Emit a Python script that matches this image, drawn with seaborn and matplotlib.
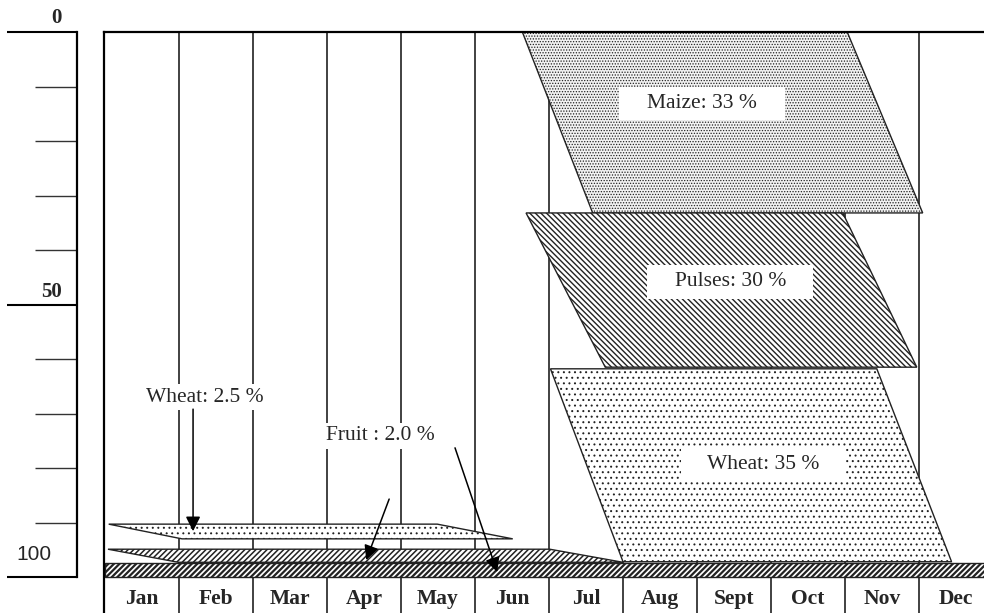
import numpy as np
import matplotlib.pyplot as plt
import seaborn as sns
from matplotlib.patches import Rectangle

sns.set_theme(style="white")
plt.rcParams['font.family'] = ['Liberation Serif', 'DejaVu Serif']
plt.rcParams['hatch.linewidth'] = 0.7

# ---- data: crop calendar (x in months from Jan 1, y in % of area, 0 at top) ----
months = ['Jan', 'Feb', 'Mar', 'Apr', 'May', 'Jun',
          'Jul', 'Aug', 'Sept', 'Oct', 'Nov', 'Dec']
crops = ['Maize', 'Pulses', 'Wheat', 'Wheat (rabi)', 'Fruit', 'Perennial']
sow_start = [5.64, 5.69, 6.02, 0.05, 0.04, 0.0]
sow_end = [10.03, 9.97, 10.43, 4.49, 6.01, 12.0]
harvest_start = [6.59, 6.76, 7.00, 1.04, 0.99, 0.0]
harvest_end = [11.05, 10.97, 11.44, 5.51, 7.00, 12.0]
top_pct = [0.0, 33.2, 61.8, 90.3, 94.9, 97.4]
bottom_pct = [33.2, 61.5, 97.2, 93.0, 97.3, 100.0]

big_labels = ['Maize: 33 %', 'Pulses: 30 %', 'Wheat: 35 %']
small_labels = ['Wheat: 2.5 %', 'Fruit : 2.0 %']

scale_major = [0, 50, 100]
scale_minor = [10, 20, 30, 40, 60, 70, 80, 90]

# fill style per crop
faces = ['#f2f2f2', 'white', 'white', 'white', 'white', 'white']
hatches = ['......', '\\\\\\\\\\\\', '...', '...', '//////', '//////']
hatch_lw = [0.6, 1.0, 0.7, 0.7, 1.1, 1.6]

# ---- figure ----
fig = plt.figure(figsize=(9.84, 6.13), dpi=100)
W, H = 984, 613
ax = fig.add_axes([104 / W, 0, 1 - 104 / W, 1 - 32 / H])
ax.set_xlim(-1 / 74, (984 - 105) / 74)
ax.set_ylim((613 - 32) / 5.45, 0)
ax.set_xticks([])
ax.set_yticks([])
for s in ['right', 'bottom']:
    ax.spines[s].set_visible(False)
for s in ['left', 'top']:
    ax.spines[s].set_color('black')
    ax.spines[s].set_linewidth(1.6)

# month separators
ax.vlines(np.arange(1, 13), 0, 110, color='#333333', lw=1.3, zorder=0)

# crop shapes
for i in range(len(crops)):
    xs = [sow_start[i], sow_end[i], harvest_end[i], harvest_start[i]]
    ys = [top_pct[i], top_pct[i], bottom_pct[i], bottom_pct[i]]
    with plt.rc_context({'hatch.linewidth': hatch_lw[i]}):
        p = ax.fill(xs, ys, facecolor=faces[i], edgecolor='#222222',
                    hatch=hatches[i], lw=1.0, zorder=2)[0]
    if hasattr(p, 'set_hatch_linewidth'):
        p.set_hatch_linewidth(hatch_lw[i])

# label boxes for the big crops
big_pos = [(8.07, 13.1), (8.45, 45.8), (8.90, 79.4)]
for (cx, cy), txt in zip(big_pos, big_labels):
    ax.add_patch(Rectangle((cx - 1.12, cy - 3.1), 2.24, 6.2, facecolor='white',
                           edgecolor='none', zorder=3))
    ax.text(cx, cy, txt, ha='center', va='center', fontsize=15.5, zorder=4)

# small crop labels with arrows
ax.text(1.35, 67.0, small_labels[0], ha='center', va='center', fontsize=15.5,
        zorder=4, bbox=dict(boxstyle='square,pad=0.15', fc='white', ec='none'))
ax.text(3.72, 74.1, small_labels[1], ha='center', va='center', fontsize=15.5,
        zorder=4, bbox=dict(boxstyle='square,pad=0.15', fc='white', ec='none'))
arrow = dict(arrowstyle='-|>', color='black', lw=1.1, mutation_scale=22,
             shrinkA=0, shrinkB=0)
ax.annotate('', xy=(1.19, 91.6), xytext=(1.19, 69.2), arrowprops=arrow, zorder=5)
ax.annotate('', xy=(3.53, 96.9), xytext=(3.84, 85.7), arrowprops=arrow, zorder=5)
ax.annotate('', xy=(5.30, 99.1), xytext=(4.73, 76.3), arrowprops=arrow, zorder=5)

# month names
for i, m in enumerate(months):
    ax.text(i + 0.5, 104.0, m, ha='center', va='center', fontsize=15.5,
            fontweight='bold')

# ---- left % scale ----
sc = fig.add_axes([7 / W, (613 - 577) / H, 70 / W, 545 / H])
sc.set_ylim(100, 0)
sc.set_xticks([])
for s in ['left', 'top', 'bottom']:
    sc.spines[s].set_visible(False)
sc.spines['right'].set_color('black')
sc.spines['right'].set_linewidth(1.6)
sc.yaxis.tick_right()
sc.set_yticks(scale_major)
sc.set_yticks(scale_minor, minor=True)
sc.tick_params(axis='y', which='major', direction='in', length=50.4, width=1.5,
               color='black', labelright=False)
sc.tick_params(axis='y', which='minor', direction='in', length=30, width=1.0,
               color='#333333', labelright=False)
tr = sc.get_yaxis_transform()
sc.text(0.71, -2.6, str(scale_major[0]), transform=tr, ha='center', va='center',
        fontsize=15, fontweight='bold')
sc.text(0.63, -2.3 + scale_major[1], str(scale_major[1]), transform=tr,
        ha='center', va='center', fontsize=15, fontweight='bold')
sc.text(0.39, -4.2 + scale_major[2], str(scale_major[2]), transform=tr,
        ha='center', va='center', fontsize=15, family='Liberation Sans')

fig.savefig('out.png', dpi=100)
